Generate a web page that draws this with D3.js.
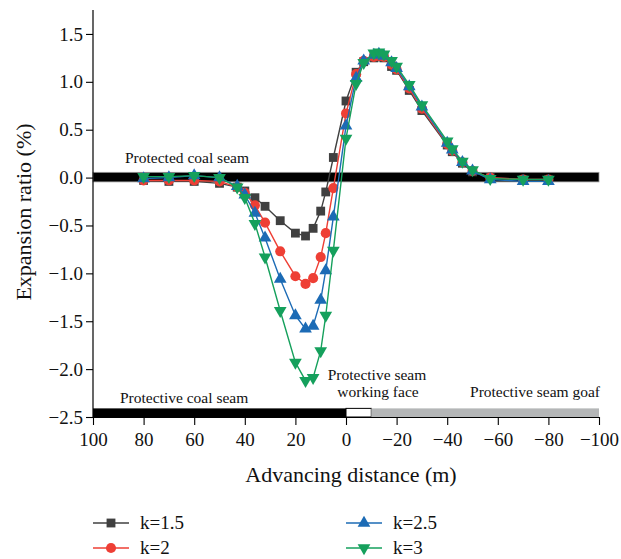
<!DOCTYPE html>
<html>
<head>
<meta charset="utf-8">
<title>Expansion ratio</title>
<style type="text/css">
body { margin: 0; background: #fff; }
text { font-family: "Liberation Serif", "DejaVu Serif", serif; fill: #111; }
</style>
</head>
<body>
<script src="https://d3js.org/d3.v7.min.js"></script>
<script>

// advancing distance (m), shared by all series
var distance = [80, 70, 60, 50, 43, 40, 36, 32, 26, 20, 16, 13, 10, 8, 5, 0,
                -4, -7, -11, -13, -15, -18, -20, -25, -30, -40, -42, -46, -50, -57, -70, -80];

var k15 = [-0.03, -0.04, -0.04, -0.06, -0.10, -0.14, -0.21, -0.30, -0.45, -0.58, -0.61, -0.53, -0.35, -0.15, 0.21, 0.80,
           1.10, 1.21, 1.25, 1.26, 1.25, 1.16, 1.12, 0.91, 0.70, 0.34, 0.27, 0.15, 0.06, 0.00, -0.02, -0.02];
var k2  = [-0.03, -0.03, -0.03, -0.04, -0.10, -0.16, -0.29, -0.47, -0.77, -1.03, -1.11, -1.05, -0.83, -0.58, -0.11, 0.67,
           1.08, 1.22, 1.26, 1.27, 1.26, 1.18, 1.13, 0.93, 0.72, 0.35, 0.28, 0.16, 0.07, 0.00, -0.02, -0.02];
var k25 = [-0.01, 0.00, 0.02, 0.00, -0.09, -0.18, -0.37, -0.63, -1.06, -1.44, -1.58, -1.55, -1.28, -0.97, -0.41, 0.54,
           1.04, 1.22, 1.28, 1.29, 1.27, 1.20, 1.14, 0.95, 0.74, 0.36, 0.29, 0.16, 0.07, -0.02, -0.04, -0.04];
var k3  = [0.01, 0.01, 0.02, 0.00, -0.10, -0.21, -0.48, -0.83, -1.39, -1.93, -2.12, -2.09, -1.81, -1.44, -0.76, 0.41,
           0.98, 1.20, 1.30, 1.31, 1.29, 1.22, 1.16, 0.97, 0.76, 0.38, 0.30, 0.17, 0.08, -0.01, -0.02, -0.02];

var seriesNames = ["k=1.5", "k=2", "k=2.5", "k=3"];
var seriesValues = [k15, k2, k25, k3];

var yTicks = [-2.5, -2.0, -1.5, -1.0, -0.5, 0.0, 0.5, 1.0, 1.5];
var xTicks = [100, 80, 60, 40, 20, 0, -20, -40, -60, -80, -100];

var width = 621, height = 559;

var svg = d3.select("body").append("svg")
    .attr("width", width)
    .attr("height", height);

var x = d3.scaleLinear().domain([100, -100]).range([93, 599]);
var y = d3.scaleLinear().domain([-2.5, 1.75]).range([417, 10]);

var colors = ["#404040", "#ee3f35", "#1c6bb5", "#15a05c"];
var symbols = [d3.symbolSquare, d3.symbolCircle, d3.symbolTriangle, d3.symbolTriangle];
var symSize = [78, 80, 70, 70];
var rot = [0, 0, 0, 180];

var fmt = function(d) { return d3.format(".1f")(d).replace("-", "\u2212"); };
var fmtX = function(d) { return String(d).replace("-", "\u2212"); };

// protected coal seam bar
svg.append("rect")
    .attr("x", x(100)).attr("y", y(0.055))
    .attr("width", x(-100) - x(100)).attr("height", y(-0.045) - y(0.055))
    .attr("fill", "#000").attr("stroke", "#999").attr("stroke-width", 0.8);

svg.append("text").attr("x", 125).attr("y", 163)
    .style("font-size", "15.5px").text("Protected coal seam");

// protective seam bars along the bottom
svg.append("rect")
    .attr("x", x(100)).attr("y", y(-2.41))
    .attr("width", x(0) - x(100)).attr("height", y(-2.5) - y(-2.41))
    .attr("fill", "#000");
svg.append("rect")
    .attr("x", x(0)).attr("y", y(-2.41))
    .attr("width", x(-10) - x(0)).attr("height", y(-2.5) - y(-2.41))
    .attr("fill", "#fff").attr("stroke", "#000").attr("stroke-width", 1);
svg.append("rect")
    .attr("x", x(-10)).attr("y", y(-2.41))
    .attr("width", x(-100) - x(-10)).attr("height", y(-2.5) - y(-2.41))
    .attr("fill", "#b4b6b7");

svg.append("text").attr("x", 120).attr("y", 403)
    .style("font-size", "15.5px").text("Protective coal seam");
svg.append("text").attr("x", 377).attr("y", 380).attr("text-anchor", "middle")
    .style("font-size", "15.5px").text("Protective seam");
svg.append("text").attr("x", 378).attr("y", 397).attr("text-anchor", "middle")
    .style("font-size", "15.5px").text("working face");
svg.append("text").attr("x", 600).attr("y", 397).attr("text-anchor", "end")
    .style("font-size", "15.5px").text("Protective seam goaf");

// axes
var yMinor = d3.range(-2.5, 1.76, 0.25);
var xMinor = d3.range(-100, 101, 10);

var gy = svg.append("g").attr("transform", "translate(" + x(100) + ",0)");
gy.call(d3.axisLeft(y).tickValues(yMinor).tickSize(4).tickFormat(""));
gy.call(d3.axisLeft(y).tickValues(yTicks).tickSize(7).tickFormat(fmt).tickSizeOuter(0));
gy.selectAll(".domain").attr("d", "M0," + y(1.75) + "V" + y(-2.5)).attr("stroke-width", 1.2);
gy.selectAll("text").style("font-size", "19px").style("font-family", "Liberation Serif, serif").attr("fill", "#111");
gy.selectAll("line").attr("stroke-width", 1.1);

var gx = svg.append("g").attr("transform", "translate(0," + y(-2.5) + ")");
gx.call(d3.axisBottom(x).tickValues(xMinor).tickSize(4).tickFormat(""));
gx.call(d3.axisBottom(x).tickValues(xTicks).tickSize(8).tickFormat(fmtX).tickSizeOuter(0));
gx.selectAll(".domain").attr("stroke-width", 1.2);
gx.selectAll("text").style("font-size", "19px").style("font-family", "Liberation Serif, serif").attr("fill", "#111").attr("dy", "0.95em");
gx.selectAll("line").attr("stroke-width", 1.1);

svg.append("text").attr("x", 351).attr("y", 482).attr("text-anchor", "middle")
    .style("font-size", "22px").text("Advancing distance (m)");
svg.append("text")
    .attr("transform", "translate(31,212) rotate(-90)")
    .attr("text-anchor", "middle")
    .style("font-size", "22px").text("Expansion ratio (%)");

// series
var line = d3.line().x(function(d) { return x(d[0]); }).y(function(d) { return y(d[1]); });

seriesValues.forEach(function(vals, i) {
    var pts = distance.map(function(d, j) { return [d, vals[j]]; });
    svg.append("path").datum(pts)
        .attr("d", line)
        .attr("fill", "none")
        .attr("stroke", colors[i])
        .attr("stroke-width", 1.4);
    svg.selectAll(".m" + i).data(pts).enter().append("path")
        .attr("class", "m" + i)
        .attr("d", d3.symbol().type(symbols[i]).size(symSize[i]))
        .attr("transform", function(d) {
            return "translate(" + x(d[0]) + "," + y(d[1]) + ") rotate(" + rot[i] + ")";
        })
        .attr("fill", colors[i]);
});

// legend
var legPos = [[93, 523], [93, 548], [346, 523], [346, 548]];
seriesNames.forEach(function(name, i) {
    var g = svg.append("g").attr("transform", "translate(" + legPos[i][0] + "," + legPos[i][1] + ")");
    g.append("line").attr("x1", 0).attr("x2", 36).attr("y1", 0).attr("y2", 0)
        .attr("stroke", colors[i]).attr("stroke-width", 1.4);
    g.append("path")
        .attr("d", d3.symbol().type(symbols[i]).size(symSize[i]))
        .attr("transform", "translate(18,0) rotate(" + rot[i] + ")")
        .attr("fill", colors[i]);
    g.append("text").attr("x", 47).attr("y", 6)
        .style("font-size", "19px").text(name);
});

</script>
</body>
</html>
